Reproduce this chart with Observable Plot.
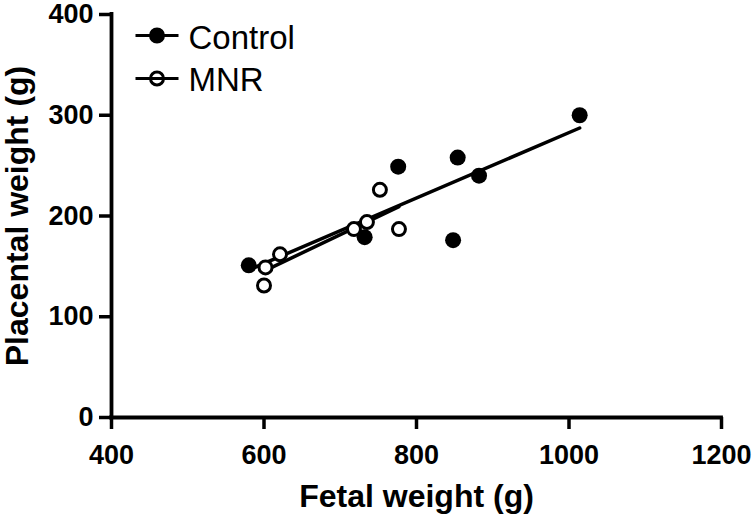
<!DOCTYPE html>
<html>
<head>
<meta charset="utf-8">
<script src="https://cdn.jsdelivr.net/npm/d3@7"></script>
<script src="https://cdn.jsdelivr.net/npm/@observablehq/plot@0.6"></script>
<style>
  html, body { margin: 0; padding: 0; background: #fff; }
  #chart g[aria-label="x-axis tick label"], #chart g[aria-label="y-axis tick label"] {
    font-size: 27px !important; font-weight: bold !important;
  }
</style>
</head>
<body>
<div id="chart"></div>
<script>
// Data
const controlFetal     = [580, 732, 776, 848, 854, 882, 1014];
const controlPlacental = [151, 179, 249, 176, 258, 240, 300];
const mnrFetal         = [600, 602, 621, 718, 735, 752, 777];
const mnrPlacental     = [131, 149, 162, 187, 194, 226, 187];

const xTicks = [400, 600, 800, 1000, 1200];
const yTicks = [0, 100, 200, 300, 400];
const seriesNames = ["Control", "MNR"];
const xTitle = "Fetal weight (g)";
const yTitle = "Placental weight (g)";

const control = controlFetal.map((x, i) => ({x, y: controlPlacental[i]}));
const mnr = mnrFetal.map((x, i) => ({x, y: mnrPlacental[i]}));

// legend symbol: short line with a circle
const legendSymbol = {
  draw(ctx, size) {
    const r = Math.sqrt(size / Math.PI);
    ctx.moveTo(-21.5, 0);
    ctx.lineTo(21.5, 0);
    ctx.moveTo(r, 0);
    ctx.arc(0, 0, r, 0, 2 * Math.PI);
  }
};

const font = "Liberation Sans, Arial, Helvetica, sans-serif";

const chart = Plot.plot({
  width: 755,
  height: 515,
  marginLeft: 111,
  marginRight: 34,
  marginTop: 14,
  marginBottom: 98,
  style: {fontFamily: font, fontSize: "27px", fontWeight: "bold", color: "black", background: "white"},
  x: {domain: [400, 1200]},
  y: {domain: [0, 400]},
  marks: [
    Plot.axisX({ticks: xTicks, tickSize: 12, tickPadding: 15, tickFormat: d3.format("d"), strokeWidth: 3.5, label: null, fontSize: 27, fontWeight: "bold"}),
    Plot.axisY({ticks: yTicks, tickSize: 12, tickPadding: 6, tickFormat: d3.format("d"), strokeWidth: 3.5, label: null, fontSize: 27, fontWeight: "bold"}),
    Plot.ruleY([0], {stroke: "black", strokeWidth: 3.8, strokeLinecap: "square"}),
    Plot.ruleX([400], {stroke: "black", strokeWidth: 3.8, strokeLinecap: "square"}),
    Plot.linearRegressionY(mnr, {x: "x", y: "y", ci: 0, stroke: "black", strokeWidth: 3.5}),
    Plot.linearRegressionY(control, {x: "x", y: "y", ci: 0, stroke: "black", strokeWidth: 3.5}),
    Plot.dot(control, {x: "x", y: "y", r: 8, fill: "black"}),
    Plot.dot(mnr, {x: "x", y: "y", r: 6.5, fill: "white", stroke: "black", strokeWidth: 3}),
    // legend
    Plot.dot([seriesNames[0]], {frameAnchor: "top-left", dx: 45.5, dy: 21, symbol: legendSymbol, r: 6.5, fill: "black", stroke: "black", strokeWidth: 3}),
    Plot.dot([seriesNames[1]], {frameAnchor: "top-left", dx: 45.5, dy: 64, symbol: legendSymbol, r: 6.5, fill: "white", stroke: "black", strokeWidth: 3}),
    Plot.text([seriesNames[0]], {frameAnchor: "top-left", dx: 77, dy: 23.5, text: d => d, textAnchor: "start", lineAnchor: "middle", fontSize: 33, fontWeight: "normal", fill: "black"}),
    Plot.text([seriesNames[1]], {frameAnchor: "top-left", dx: 77, dy: 65.5, text: d => d, textAnchor: "start", lineAnchor: "middle", fontSize: 33, fontWeight: "normal", fill: "black"}),
    // axis titles
    Plot.text([xTitle], {frameAnchor: "bottom", dy: 79.5, text: d => d, textAnchor: "middle", lineAnchor: "middle", fontSize: 32, fontWeight: "bold", fill: "black"}),
    Plot.text([yTitle], {frameAnchor: "left", dx: -94, rotate: -90, text: d => d, textAnchor: "middle", lineAnchor: "middle", fontSize: 32, fontWeight: "bold", fill: "black"})
  ]
});
document.getElementById("chart").appendChild(chart);
</script>
</body>
</html>
